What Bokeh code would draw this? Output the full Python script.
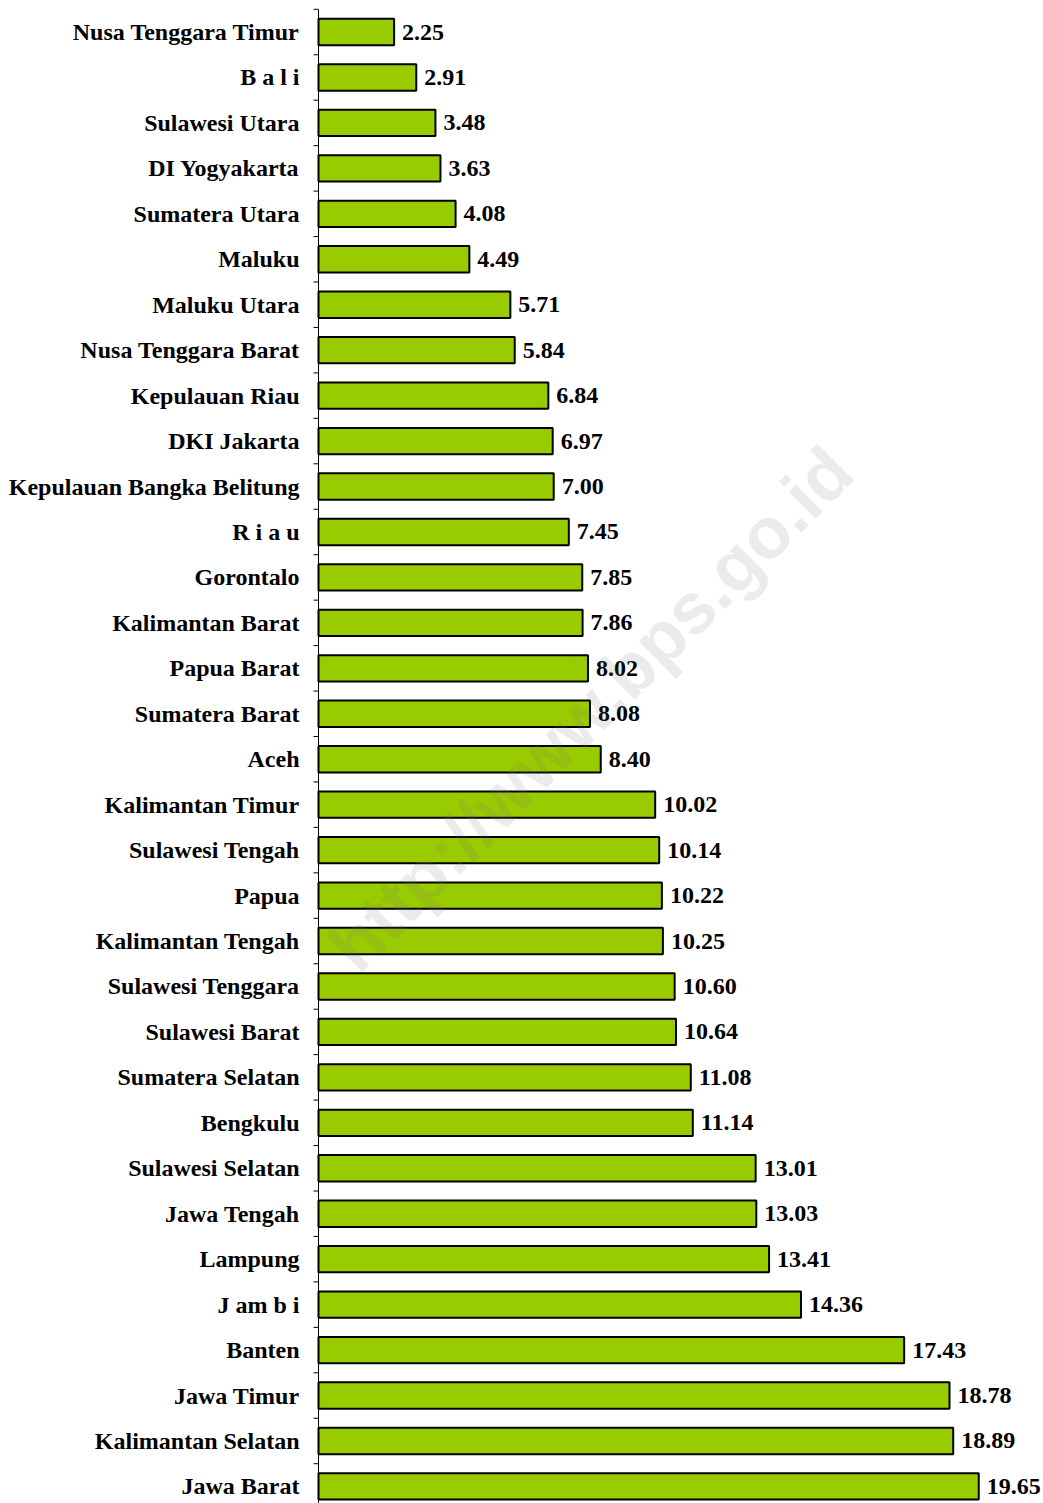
from bokeh.plotting import figure
from bokeh.models import ColumnDataSource, Range1d
from bokeh.core.properties import value
from bokeh.embed import file_html
from bokeh.resources import INLINE
import math

provinces = [
    "Nusa Tenggara Timur", "B a l i", "Sulawesi Utara", "DI Yogyakarta", "Sumatera Utara",
    "Maluku", "Maluku Utara", "Nusa Tenggara Barat", "Kepulauan Riau", "DKI Jakarta",
    "Kepulauan Bangka Belitung", "R i a u", "Gorontalo", "Kalimantan Barat", "Papua Barat",
    "Sumatera Barat", "Aceh", "Kalimantan Timur", "Sulawesi Tengah", "Papua",
    "Kalimantan Tengah", "Sulawesi Tenggara", "Sulawesi Barat", "Sumatera Selatan", "Bengkulu",
    "Sulawesi Selatan", "Jawa Tengah", "Lampung", "J am b i", "Banten",
    "Jawa Timur", "Kalimantan Selatan", "Jawa Barat",
]
values = [
    2.25, 2.91, 3.48, 3.63, 4.08,
    4.49, 5.71, 5.84, 6.84, 6.97,
    7.00, 7.45, 7.85, 7.86, 8.02,
    8.08, 8.40, 10.02, 10.14, 10.22,
    10.25, 10.60, 10.64, 11.08, 11.14,
    13.01, 13.03, 13.41, 14.36, 17.43,
    18.78, 18.89, 19.65,
]
value_labels = [f"{v:.2f}" for v in values]

n = len(provinces)
pos = list(range(n))

W, H = 1043, 1503
kx = 33.6
x0 = -318 / kx
x1 = x0 + W / kx
ky = 45.45
y_top = -0.5 - 8.8 / ky
y_bot = y_top + H / ky

p = figure(width=W, height=H, output_backend="svg", toolbar_location=None,
           x_range=Range1d(x0, x1), y_range=Range1d(y_bot, y_top),
           min_border=0, min_border_left=0, min_border_right=0,
           min_border_top=0, min_border_bottom=0)
p.xaxis.visible = False
p.yaxis.visible = False
p.grid.visible = False
p.outline_line_color = None
p.background_fill_color = "white"
p.border_fill_color = "white"

src = ColumnDataSource(dict(y=pos, v=values, name=provinces, lab=value_labels, zero=[0] * n))

# watermark
p.text(x=[(590 - 318) / kx], y=[(708 - 8.8) / ky - 0.5], text=["http://www.bps.go.id"],
       angle=math.pi / 4, text_align="center", text_baseline="middle",
       text_font=value("Liberation Sans"), text_font_style="bold", text_font_size="72px",
       text_color="#7a7a7a", text_alpha=0.15, level="overlay")

p.hbar(y="y", left="zero", right="v", height=0.58, source=src,
       fill_color="#99CC00", line_color="black", line_width=2)

# axis line and boundary ticks
p.segment(x0=[0], y0=[y_top + 0.2], x1=[0], y1=[y_bot], line_color="black", line_width=1)
bounds = [i - 0.5 for i in range(n + 1)]
p.segment(x0=[-5 / kx] * len(bounds), y0=bounds, x1=[0] * len(bounds), y1=bounds,
          line_color="black", line_width=1)

p.text(x="zero", y="y", text="name", source=src, x_offset=-19,
       text_align="right", text_baseline="middle",
       text_font=value("Liberation Serif"), text_font_style="bold",
       text_font_size="24px", text_color="black")
p.text(x="v", y="y", text="lab", source=src, x_offset=8,
       text_align="left", text_baseline="middle",
       text_font=value("Liberation Serif"), text_font_style="bold",
       text_font_size="24px", text_color="black")

open("out.html", "w").write(file_html(p, INLINE))
